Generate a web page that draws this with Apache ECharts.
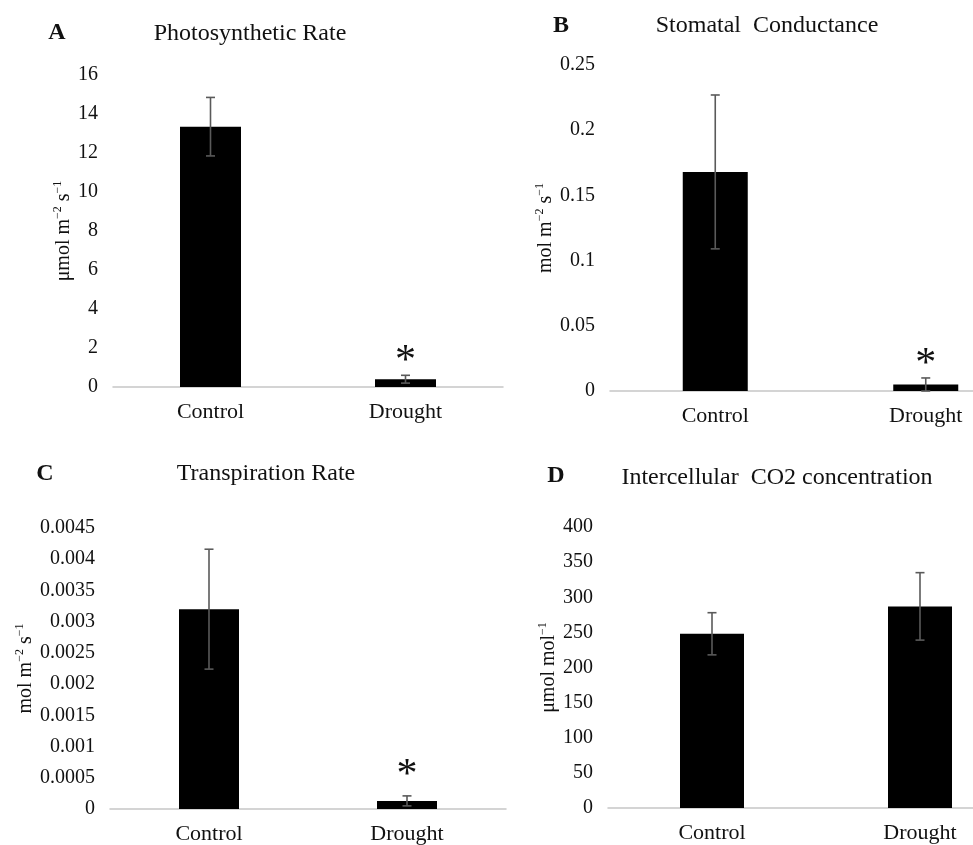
<!DOCTYPE html>
<html lang="en">
<head>
    <meta charset="UTF-8">
    <title>Gas exchange under drought</title>
    <script src="https://cdn.jsdelivr.net/npm/echarts@6/dist/echarts.min.js"></script>
    <style>
        body { margin: 0; background: #fff; }
        #chart { width: 973px; height: 845px; }
    </style>
</head>
<body>
    <div id="chart"></div>

    <script>
        // data
        const categories = ['Control', 'Drought'];

        const photoMean = [13.35, 0.4];
        const photoErr = [1.5, 0.2];
        const photoSig = ['', '*'];

        const stomMean = [0.168, 0.005];
        const stomErr = [0.059, 0.005];
        const stomSig = ['', '*'];

        const transMean = [0.0032, 0.00013];
        const transErr = [0.00096, 0.00008];
        const transSig = ['', '*'];

        const co2Mean = [248, 287];
        const co2Err = [30, 48];
        const co2Sig = ['', ''];

        const serif = 'Liberation Serif';

        function errorSeries(idx, mean, err, sig, sigGap) {
            return {
                type: 'custom',
                xAxisIndex: idx,
                yAxisIndex: idx,
                z: 5,
                data: mean.map((m, i) => [i, m, err[i]]),
                renderItem: function (params, api) {
                    var x = api.value(0);
                    var m = api.value(1);
                    var e = api.value(2);
                    var hi = api.coord([x, m + e]);
                    var lo = api.coord([x, m - e]);
                    var style = { stroke: '#5a5a5a', lineWidth: 1.6 };
                    var children = [
                        { type: 'line', shape: { x1: hi[0], y1: hi[1], x2: lo[0], y2: lo[1] }, style: style },
                        { type: 'line', shape: { x1: hi[0] - 4.5, y1: hi[1], x2: hi[0] + 4.5, y2: hi[1] }, style: style },
                        { type: 'line', shape: { x1: lo[0] - 4.5, y1: lo[1], x2: lo[0] + 4.5, y2: lo[1] }, style: style }
                    ];
                    var s = sig[params.dataIndex];
                    if (s) {
                        children.push({
                            type: 'text',
                            x: hi[0],
                            y: hi[1] - sigGap,
                            style: {
                                text: s,
                                font: '42px ' + serif,
                                fill: '#111',
                                align: 'center',
                                verticalAlign: 'middle'
                            }
                        });
                    }
                    return { type: 'group', children: children };
                }
            };
        }

        function barSeries(idx, mean, width) {
            return {
                type: 'bar',
                xAxisIndex: idx,
                yAxisIndex: idx,
                barWidth: width,
                data: mean,
                itemStyle: { color: '#000' }
            };
        }

        function xAxisFor(idx) {
            return {
                type: 'category',
                gridIndex: idx,
                data: categories,
                axisTick: { show: false },
                axisLine: { lineStyle: { color: '#c6c6c6', width: 1.5 } },
                axisLabel: { color: '#111', fontFamily: serif, fontSize: 22, margin: 14 }
            };
        }

        function yAxisFor(idx, max, interval, name, gap) {
            return {
                type: 'value',
                gridIndex: idx,
                min: 0,
                max: max,
                interval: interval,
                splitLine: { show: false },
                axisLine: { show: false },
                axisTick: { show: false },
                axisLabel: { color: '#111', fontFamily: serif, fontSize: 20, margin: 15 },
                name: name,
                nameLocation: 'middle',
                nameRotate: 90,
                nameGap: gap,
                nameTextStyle: {
                    color: '#111',
                    fontFamily: serif,
                    fontSize: 20,
                    rich: {
                        n: { fontFamily: serif, fontSize: 20, color: '#111', verticalAlign: 'bottom', lineHeight: 22 },
                        s: { fontFamily: serif, fontSize: 12, color: '#111', verticalAlign: 'top', lineHeight: 22 }
                    }
                }
            };
        }

        function label(text, x, y, size, bold) {
            return {
                type: 'text',
                x: x,
                y: y,
                style: {
                    text: text,
                    font: (bold ? 'bold ' : '') + size + 'px ' + serif,
                    fill: '#111',
                    align: 'center',
                    verticalAlign: 'middle'
                }
            };
        }

        var chart = echarts.init(document.getElementById('chart'));

        var option = {
            animation: false,
            backgroundColor: '#fff',
            grid: [
                { left: 113, top: 75, width: 390, height: 312, outerBoundsMode: 'none', containLabel: false },
                { left: 610, top: 65, width: 421, height: 326, outerBoundsMode: 'none', containLabel: false },
                { left: 110, top: 528, width: 396, height: 281, outerBoundsMode: 'none', containLabel: false },
                { left: 608, top: 527, width: 416, height: 281, outerBoundsMode: 'none', containLabel: false }
            ],
            xAxis: [xAxisFor(0), xAxisFor(1), xAxisFor(2), xAxisFor(3)],
            yAxis: [
                yAxisFor(0, 16, 2, '{n|μmol m}{s|−2}{n| s}{s|−1}', 37),
                yAxisFor(1, 0.25, 0.05, '{n|mol m}{s|−2}{n| s}{s|−1}', 54),
                yAxisFor(2, 0.0045, 0.0005, '{n|mol m}{s|−2}{n| s}{s|−1}', 68),
                yAxisFor(3, 400, 50, '{n|μmol mol}{s|−1}', 37)
            ],
            series: [
                barSeries(0, photoMean, 61),
                errorSeries(0, photoMean, photoErr, photoSig, 13),
                barSeries(1, stomMean, 65),
                errorSeries(1, stomMean, stomErr, stomSig, 13),
                barSeries(2, transMean, 60),
                errorSeries(2, transMean, transErr, transSig, 20),
                barSeries(3, co2Mean, 64),
                errorSeries(3, co2Mean, co2Err, co2Sig, 20)
            ],
            graphic: [
                label('A', 57, 33, 24, true),
                label('Photosynthetic Rate', 250, 34, 24, false),
                label('B', 561, 26, 24, true),
                label('Stomatal  Conductance', 767, 26, 24, false),
                label('C', 45, 474, 24, true),
                label('Transpiration Rate', 266, 474, 24, false),
                label('D', 556, 476, 24, true),
                label('Intercellular  CO2 concentration', 777, 478, 24, false)
            ]
        };

        chart.setOption(option);
    </script>
</body>
</html>
